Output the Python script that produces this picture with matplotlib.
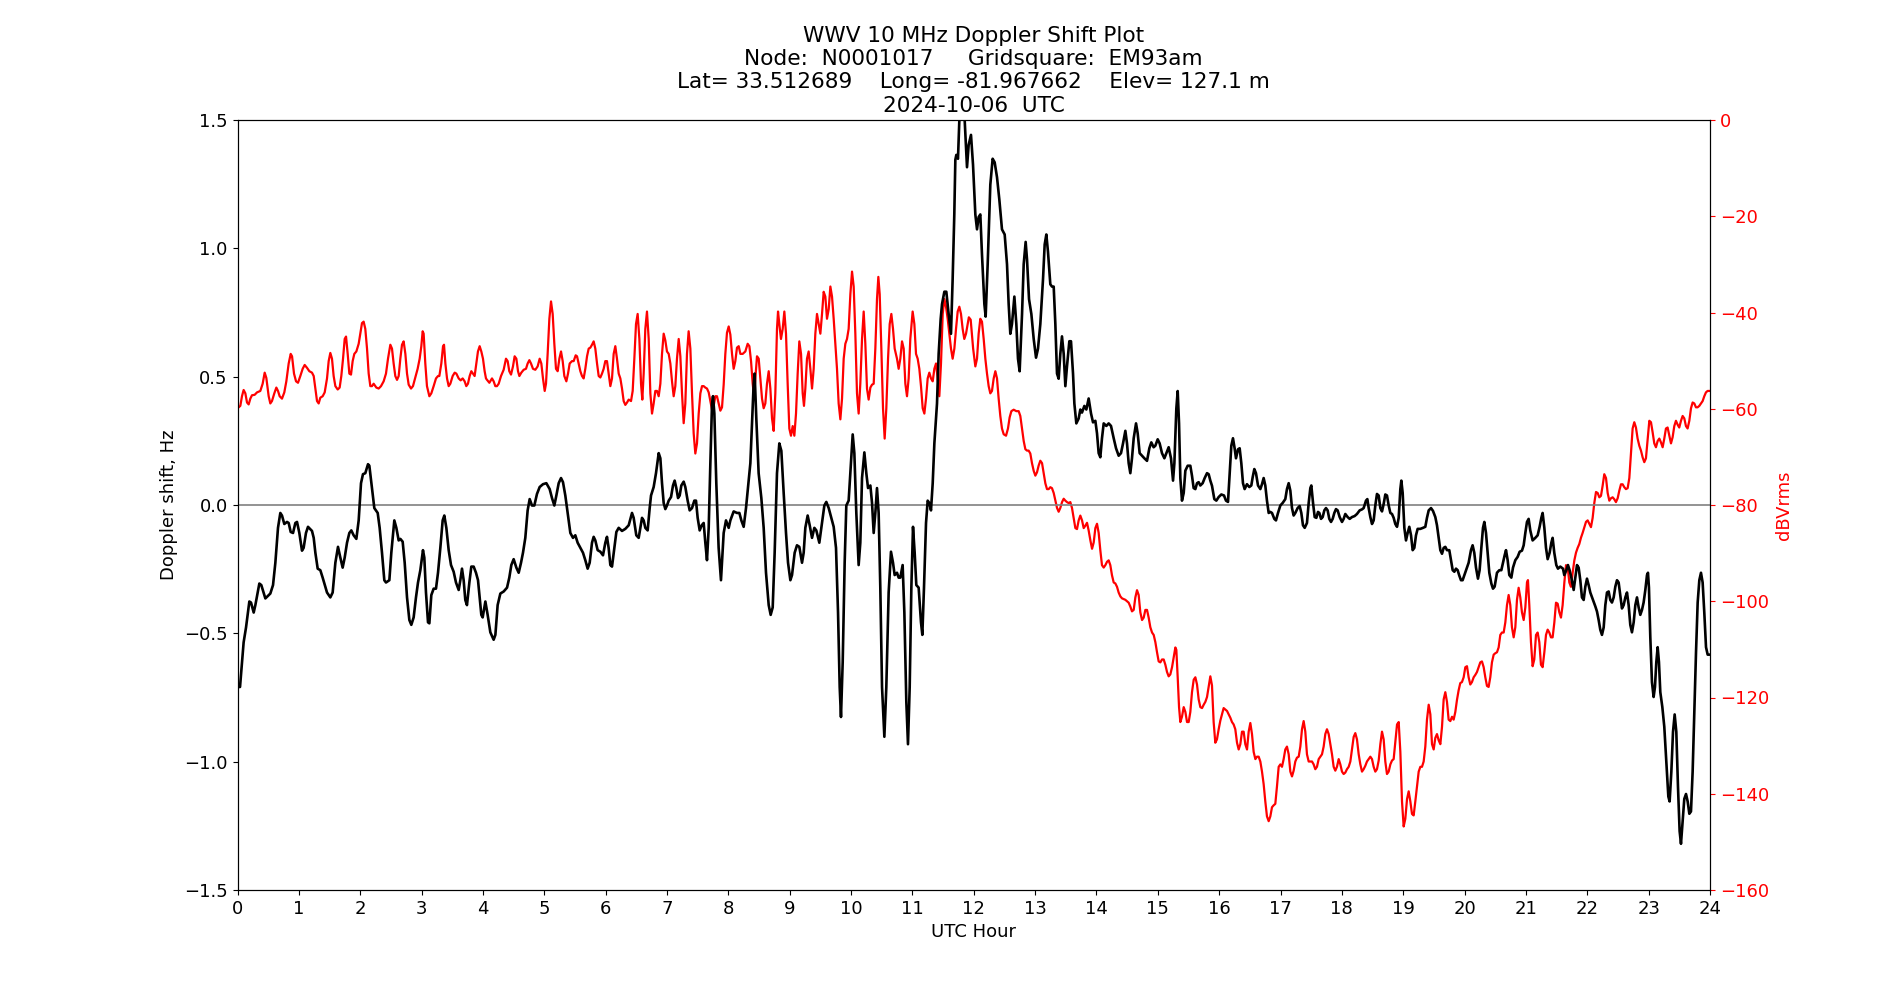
import matplotlib
matplotlib.use("Agg")
import matplotlib.pyplot as plt
import numpy as np

title_lines = [
    "WWV 10 MHz Doppler Shift Plot",
    "Node:  N0001017     Gridsquare:  EM93am",
    "Lat= 33.512689    Long= -81.967662    Elev= 127.1 m",
    "2024-10-06  UTC",
]
x_label = "UTC Hour"
left_label = "Doppler shift, Hz"
right_label = "dBVrms"
hour_ticks = list(range(0, 25))
doppler_ticks = [-1.5, -1.0, -0.5, 0.0, 0.5, 1.0, 1.5]
db_ticks = [-160, -140, -120, -100, -80, -60, -40, -20, 0]

# Doppler shift (Hz) vs UTC hour
dop_hours = [
    0.019, 0.041, 0.10, 0.139, 0.193, 0.22, 0.264, 0.291, 0.356, 0.388, 0.454, 0.535, 0.579, 0.617, 0.66, 0.698,
    0.725, 0.763, 0.807, 0.834, 0.867, 0.905, 0.943, 0.97, 1.008, 1.051, 1.078, 1.116, 1.149, 1.214, 1.242, 1.269,
    1.307, 1.35, 1.388, 1.459, 1.513, 1.551, 1.595, 1.638, 1.676, 1.714, 1.747, 1.785, 1.823, 1.855, 1.893, 1.937,
    1.975, 2.013, 2.045, 2.083, 2.127, 2.149, 2.192, 2.23, 2.285, 2.317, 2.355, 2.393, 2.42, 2.475, 2.507, 2.556,
    2.589, 2.627, 2.654, 2.692, 2.725, 2.763, 2.801, 2.833, 2.871, 2.909, 2.942, 2.98, 3.023, 3.045, 3.072, 3.105,
    3.127, 3.159, 3.197, 3.235, 3.268, 3.306, 3.344, 3.371, 3.404, 3.442, 3.48, 3.523, 3.561, 3.605, 3.632, 3.659,
    3.686, 3.713, 3.74, 3.779, 3.811, 3.849, 3.887, 3.92, 3.947, 3.974, 3.996,
    4.04, 4.077, 4.121, 4.175, 4.203, 4.24, 4.284, 4.338, 4.393, 4.43, 4.463, 4.501, 4.545, 4.583, 4.621, 4.653,
    4.691, 4.729, 4.762, 4.8, 4.838, 4.881, 4.925, 4.979, 5.034, 5.088, 5.126, 5.164, 5.197, 5.235, 5.273, 5.305,
    5.343, 5.381, 5.425, 5.468, 5.506, 5.544, 5.588, 5.631, 5.669, 5.707, 5.74, 5.778, 5.805, 5.832, 5.87, 5.914,
    5.957, 5.995, 6.022, 6.049, 6.077, 6.104, 6.142, 6.175, 6.213, 6.267, 6.321, 6.376, 6.43, 6.457, 6.5, 6.539,
    6.566, 6.593, 6.62, 6.647, 6.685, 6.718, 6.74, 6.783, 6.821, 6.865, 6.892, 6.919, 6.946, 6.973, 7.0, 7.028,
    7.066, 7.098, 7.125, 7.152, 7.18, 7.207, 7.234, 7.272, 7.299, 7.337, 7.37, 7.408, 7.446, 7.473, 7.5, 7.533,
    7.566, 7.598, 7.625, 7.652, 7.68, 7.707, 7.734, 7.75, 7.772, 7.804, 7.842, 7.88,
    7.924, 7.962, 8.006, 8.033, 8.087, 8.141, 8.18, 8.212, 8.25, 8.288, 8.332, 8.359, 8.386, 8.413, 8.429, 8.456,
    8.494, 8.538, 8.576, 8.614, 8.658, 8.69, 8.723, 8.755, 8.793, 8.831, 8.864, 8.902, 8.94, 8.973, 9.011, 9.038,
    9.081, 9.119, 9.157, 9.201, 9.228, 9.255, 9.293, 9.326, 9.364, 9.402, 9.434, 9.483, 9.527, 9.565, 9.597, 9.636,
    9.679, 9.717, 9.755, 9.788, 9.815, 9.836, 9.864, 9.896, 9.923, 9.961, 9.999, 10.027, 10.054, 10.086, 10.124, 10.151,
    10.179, 10.217, 10.249, 10.277, 10.315, 10.342, 10.369, 10.396, 10.423, 10.45, 10.477, 10.505, 10.543, 10.575, 10.613, 10.651,
    10.684, 10.711, 10.749, 10.776, 10.803, 10.841, 10.869, 10.901, 10.928, 10.956, 10.983, 11.01, 11.037, 11.064, 11.102, 11.14,
    11.162, 11.189, 11.222, 11.249, 11.276, 11.303, 11.331, 11.358, 11.401, 11.428, 11.461, 11.483, 11.521, 11.553, 11.591, 11.629,
    11.656, 11.683, 11.7, 11.716, 11.743, 11.765, 11.78, 11.83, 11.852, 11.89,
    11.917, 11.955, 11.988, 12.026, 12.053, 12.08, 12.107, 12.134, 12.173, 12.194, 12.227, 12.27, 12.308, 12.341, 12.379, 12.417,
    12.46, 12.504, 12.542, 12.569, 12.596, 12.623, 12.662, 12.694, 12.721, 12.748, 12.787, 12.814, 12.846, 12.868, 12.901, 12.939,
    12.977, 13.015, 13.047, 13.085, 13.129, 13.156, 13.183, 13.21, 13.248, 13.275, 13.303, 13.33, 13.357, 13.384, 13.411, 13.438,
    13.466, 13.493, 13.52, 13.558, 13.585, 13.618, 13.64, 13.672, 13.71, 13.737, 13.764, 13.803, 13.835, 13.873, 13.911, 13.944,
    13.982, 14.009, 14.036, 14.063, 14.09, 14.118, 14.161, 14.199, 14.237, 14.281, 14.319, 14.362, 14.4, 14.433, 14.471, 14.498,
    14.525, 14.552, 14.579, 14.607, 14.645, 14.672, 14.704, 14.742, 14.781, 14.824, 14.862, 14.894, 14.932, 14.96, 14.998, 15.03,
    15.068, 15.107, 15.14, 15.177, 15.215, 15.248, 15.27, 15.302, 15.324, 15.346, 15.367, 15.394, 15.422, 15.449, 15.487, 15.53,
    15.557, 15.584, 15.612, 15.639, 15.666, 15.693, 15.731, 15.764, 15.802, 15.829, 15.856, 15.883,
    15.921, 15.954, 15.992, 16.035, 16.079, 16.111, 16.144, 16.171, 16.198, 16.225, 16.252, 16.274, 16.307, 16.334, 16.361, 16.388,
    16.415, 16.453, 16.491, 16.524, 16.546, 16.573, 16.6, 16.633, 16.671, 16.698, 16.725, 16.752, 16.779, 16.807, 16.834, 16.861,
    16.899, 16.926, 16.959, 16.997, 17.035, 17.078, 17.105, 17.133, 17.16, 17.187, 17.214, 17.241, 17.279, 17.312, 17.339, 17.366,
    17.394, 17.431, 17.459, 17.486, 17.502, 17.53, 17.557, 17.584, 17.611, 17.633, 17.66, 17.687, 17.714, 17.741, 17.768, 17.795,
    17.823, 17.85, 17.877, 17.904, 17.931, 17.964, 18.002, 18.029, 18.056, 18.094, 18.127, 18.165, 18.208, 18.246, 18.29, 18.328,
    18.355, 18.393, 18.415, 18.437, 18.464, 18.491, 18.518, 18.545, 18.572, 18.6, 18.627, 18.654, 18.681, 18.708, 18.735, 18.763,
    18.79, 18.817, 18.844, 18.871, 18.899, 18.926, 18.953, 18.969, 18.991, 19.018, 19.045, 19.072, 19.099, 19.127, 19.154, 19.181,
    19.208, 19.235, 19.279, 19.322, 19.36, 19.387, 19.415, 19.453, 19.485, 19.523, 19.55, 19.577, 19.605, 19.632, 19.659, 19.686,
    19.713, 19.751, 19.778, 19.806, 19.833, 19.86, 19.887, 19.914, 19.941, 19.968,
    20.023, 20.066, 20.104, 20.131, 20.158, 20.186, 20.218, 20.245, 20.273, 20.3, 20.322, 20.349, 20.376, 20.403, 20.436, 20.463,
    20.49, 20.528, 20.566, 20.599, 20.626, 20.653, 20.675, 20.702, 20.729, 20.762, 20.789, 20.827, 20.865, 20.898, 20.935, 20.963,
    20.99, 21.017, 21.044, 21.071, 21.109, 21.153, 21.191, 21.223, 21.251, 21.272, 21.3, 21.327, 21.354, 21.386, 21.414, 21.435,
    21.462, 21.495, 21.522, 21.56, 21.604, 21.625, 21.658, 21.685, 21.712, 21.74, 21.778, 21.805, 21.832, 21.859, 21.886, 21.913,
    21.941, 21.968, 21.995, 22.022, 22.049, 22.093, 22.131, 22.158, 22.185, 22.212, 22.239, 22.267, 22.294, 22.321, 22.348, 22.375,
    22.402, 22.43, 22.457, 22.484, 22.511, 22.538, 22.565, 22.593, 22.62, 22.647, 22.674, 22.701, 22.728, 22.756, 22.783, 22.81,
    22.837, 22.864, 22.891, 22.918, 22.946, 22.973, 22.989, 23.005, 23.027, 23.054, 23.081, 23.103, 23.125, 23.147, 23.168, 23.19,
    23.223, 23.255, 23.288, 23.321, 23.342, 23.37, 23.397, 23.424, 23.451, 23.478, 23.505, 23.527, 23.554, 23.581, 23.609, 23.636,
    23.663, 23.69, 23.717, 23.744, 23.772, 23.799, 23.826, 23.853, 23.88, 23.907, 23.935, 23.962, 23.994,
]
dop_hz = [
    -0.709, -0.709, -0.535, -0.477, -0.376, -0.380, -0.419, -0.390, -0.306, -0.312, -0.364, -0.345, -0.312, -0.225, -0.089, -0.031,
    -0.041, -0.074, -0.066, -0.070, -0.105, -0.109, -0.070, -0.066, -0.109, -0.178, -0.167, -0.109, -0.085, -0.101, -0.128, -0.186,
    -0.248, -0.254, -0.283, -0.341, -0.360, -0.341, -0.225, -0.163, -0.205, -0.244, -0.205, -0.147, -0.109, -0.099, -0.118, -0.132,
    -0.060, 0.085, 0.120, 0.124, 0.159, 0.153, 0.066, -0.012, -0.031, -0.089, -0.186, -0.293, -0.302, -0.293, -0.186, -0.060,
    -0.089, -0.138, -0.132, -0.143, -0.225, -0.360, -0.448, -0.467, -0.438, -0.360, -0.302, -0.254, -0.176, -0.205, -0.341, -0.457,
    -0.461, -0.351, -0.326, -0.326, -0.264, -0.167, -0.060, -0.041, -0.089, -0.176, -0.234, -0.260, -0.302, -0.331, -0.293, -0.248,
    -0.293, -0.370, -0.390, -0.302, -0.240, -0.240, -0.264, -0.293, -0.360, -0.428, -0.438,
    -0.376, -0.428, -0.496, -0.525, -0.506, -0.390, -0.345, -0.337, -0.322, -0.283, -0.234, -0.211, -0.244, -0.264, -0.225, -0.186,
    -0.128, -0.021, 0.023, -0.002, -0.002, 0.043, 0.070, 0.081, 0.085, 0.062, 0.027, -0.002, 0.037, 0.085, 0.105, 0.089,
    0.037, -0.031, -0.109, -0.128, -0.118, -0.147, -0.167, -0.186, -0.215, -0.248, -0.225, -0.147, -0.124, -0.138, -0.176, -0.182,
    -0.196, -0.147, -0.124, -0.167, -0.234, -0.240, -0.167, -0.105, -0.089, -0.101, -0.093, -0.079, -0.031, -0.050, -0.118, -0.128,
    -0.089, -0.050, -0.060, -0.089, -0.099, -0.012, 0.037, 0.070, 0.124, 0.202, 0.182, 0.085, 0.008, -0.016, -0.002, 0.017,
    0.031, 0.076, 0.095, 0.066, 0.027, 0.037, 0.076, 0.091, 0.070, 0.017, -0.021, -0.012, 0.017, 0.017, -0.050, -0.099,
    -0.079, -0.070, -0.147, -0.215, -0.089, 0.163, 0.395, 0.424, 0.357, 0.085, -0.167, -0.293,
    -0.109, -0.060, -0.089, -0.060, -0.025, -0.031, -0.031, -0.060, -0.085, -0.012, 0.095, 0.163, 0.318, 0.473, 0.512, 0.337,
    0.124, 0.027, -0.089, -0.264, -0.390, -0.428, -0.399, -0.186, 0.124, 0.240, 0.211, 0.047, -0.109, -0.225, -0.293, -0.273,
    -0.186, -0.157, -0.163, -0.225, -0.186, -0.089, -0.041, -0.079, -0.128, -0.089, -0.099, -0.147, -0.070, -0.002, 0.012, -0.012,
    -0.050, -0.085, -0.167, -0.419, -0.709, -0.826, -0.612, -0.225, -0.002, 0.017, 0.163, 0.275, 0.202, -0.031, -0.234, -0.147,
    0.105, 0.205, 0.124, 0.066, 0.076, 0.008, -0.109, -0.031, 0.066, -0.031, -0.322, -0.709, -0.903, -0.709, -0.341, -0.182,
    -0.225, -0.273, -0.264, -0.283, -0.283, -0.234, -0.419, -0.767, -0.932, -0.709, -0.322, -0.085, -0.186, -0.312, -0.322, -0.457,
    -0.506, -0.322, -0.070, 0.017, 0.008, -0.021, 0.085, 0.240, 0.395, 0.589, 0.725, 0.783, 0.831, 0.831, 0.744, 0.667,
    0.880, 1.132, 1.345, 1.364, 1.349, 1.5, 1.6, 1.6, 1.5, 1.316,
    1.403, 1.442, 1.326, 1.132, 1.074, 1.122, 1.132, 0.977, 0.783, 0.734, 0.938, 1.248, 1.349, 1.335, 1.277, 1.19,
    1.074, 1.054, 0.938, 0.783, 0.667, 0.705, 0.812, 0.705, 0.57, 0.521, 0.744, 0.938, 1.025, 0.957, 0.802, 0.744,
    0.647, 0.574, 0.609, 0.705, 0.880, 1.015, 1.054, 0.986, 0.860, 0.851, 0.851, 0.705, 0.512, 0.492, 0.589, 0.657,
    0.589, 0.463, 0.541, 0.638, 0.638, 0.512, 0.395, 0.318, 0.337, 0.372, 0.360, 0.386, 0.372, 0.415, 0.357, 0.322,
    0.328, 0.279, 0.202, 0.186, 0.26, 0.318, 0.308, 0.318, 0.308, 0.26, 0.221, 0.192, 0.202, 0.240, 0.289, 0.240,
    0.163, 0.124, 0.182, 0.260, 0.318, 0.279, 0.202, 0.192, 0.182, 0.172, 0.221, 0.244, 0.225, 0.231, 0.256, 0.240,
    0.202, 0.182, 0.202, 0.225, 0.182, 0.095, 0.163, 0.376, 0.444, 0.318, 0.105, 0.017, 0.047, 0.134, 0.153, 0.153,
    0.114, 0.066, 0.062, 0.085, 0.089, 0.076, 0.085, 0.105, 0.124, 0.12, 0.095, 0.075,
    0.023, 0.017, 0.031, 0.041, 0.037, 0.017, 0.012, 0.124, 0.231, 0.260, 0.221, 0.182, 0.217, 0.221, 0.163, 0.085,
    0.062, 0.081, 0.070, 0.076, 0.108, 0.140, 0.124, 0.076, 0.062, 0.081, 0.105, 0.076, 0.017, -0.031, -0.027, -0.031,
    -0.054, -0.060, -0.031, -0.002, 0.008, 0.023, 0.062, 0.085, 0.056, -0.012, -0.041, -0.031, -0.012, -0.004, -0.031, -0.079,
    -0.089, -0.070, 0.008, 0.066, 0.076, 0.008, -0.047, -0.050, -0.027, -0.031, -0.054, -0.047, -0.021, -0.012, -0.021, -0.054,
    -0.066, -0.054, -0.031, -0.016, -0.021, -0.047, -0.066, -0.054, -0.035, -0.047, -0.054, -0.047, -0.043, -0.035, -0.021, -0.017,
    -0.012, 0.017, 0.023, -0.012, -0.047, -0.074, -0.060, -0.002, 0.043, 0.037, -0.012, -0.025, 0.004, 0.041, 0.037, -0.002,
    -0.031, -0.035, -0.050, -0.074, -0.085, -0.050, 0.062, 0.095, 0.047, -0.089, -0.138, -0.109, -0.085, -0.118, -0.176, -0.167,
    -0.118, -0.093, -0.093, -0.089, -0.085, -0.050, -0.021, -0.012, -0.023, -0.047, -0.079, -0.128, -0.176, -0.190, -0.167, -0.163,
    -0.176, -0.176, -0.215, -0.254, -0.260, -0.248, -0.254, -0.275, -0.293, -0.293,
    -0.255, -0.225, -0.176, -0.157, -0.186, -0.244, -0.287, -0.254, -0.167, -0.089, -0.066, -0.109, -0.186, -0.264, -0.306, -0.326,
    -0.318, -0.264, -0.254, -0.254, -0.225, -0.196, -0.176, -0.215, -0.273, -0.283, -0.244, -0.215, -0.202, -0.182, -0.178, -0.157,
    -0.109, -0.066, -0.054, -0.099, -0.138, -0.128, -0.118, -0.085, -0.050, -0.031, -0.089, -0.167, -0.211, -0.186, -0.147, -0.128,
    -0.186, -0.234, -0.248, -0.240, -0.248, -0.273, -0.254, -0.234, -0.254, -0.283, -0.331, -0.283, -0.234, -0.244, -0.293, -0.360,
    -0.370, -0.318, -0.287, -0.312, -0.341, -0.370, -0.395, -0.415, -0.448, -0.486, -0.506, -0.477, -0.390, -0.341, -0.337, -0.370,
    -0.380, -0.360, -0.318, -0.293, -0.302, -0.351, -0.403, -0.390, -0.360, -0.341, -0.390, -0.467, -0.496, -0.457, -0.390, -0.360,
    -0.399, -0.428, -0.409, -0.380, -0.331, -0.273, -0.264, -0.322, -0.515, -0.690, -0.748, -0.709, -0.612, -0.554, -0.612, -0.729,
    -0.787, -0.864, -0.999, -1.136, -1.155, -1.039, -0.884, -0.816, -0.884, -1.097, -1.271, -1.320, -1.233, -1.145, -1.126, -1.155,
    -1.203, -1.194, -1.039, -0.806, -0.574, -0.380, -0.293, -0.264, -0.302, -0.419, -0.554, -0.583, -0.583,
]

# Received signal level (dBVrms) vs UTC hour
rms_hours = [
    0.019, 0.046, 0.073, 0.1, 0.128, 0.155, 0.182, 0.209, 0.236, 0.28, 0.318, 0.372, 0.41, 0.443, 0.47, 0.508,
    0.535, 0.562, 0.6, 0.633, 0.66, 0.687, 0.725, 0.763, 0.796, 0.834, 0.867, 0.889, 0.921, 0.954, 0.986, 1.024,
    1.062, 1.095, 1.133, 1.171, 1.214, 1.242, 1.269, 1.296, 1.323, 1.35, 1.388, 1.421, 1.459, 1.486, 1.513, 1.54,
    1.567, 1.595, 1.633, 1.665, 1.692, 1.72, 1.747, 1.769, 1.796, 1.823, 1.85, 1.877, 1.904, 1.937, 1.975, 2.002,
    2.029, 2.056, 2.083, 2.111, 2.138, 2.165, 2.192, 2.219, 2.263, 2.301, 2.339, 2.382, 2.42, 2.453, 2.491, 2.518,
    2.545, 2.572, 2.6, 2.627, 2.654, 2.681, 2.708, 2.736, 2.763, 2.79, 2.828, 2.86, 2.898, 2.936, 2.969, 2.996,
    3.018, 3.034, 3.061, 3.088, 3.127, 3.159, 3.197, 3.235, 3.268, 3.29, 3.322, 3.35, 3.366, 3.388, 3.415, 3.442,
    3.469, 3.507, 3.54, 3.567, 3.605, 3.637, 3.67, 3.702, 3.729, 3.756, 3.784, 3.811, 3.838, 3.865, 3.892, 3.919,
    3.947, 3.974, 4.001, 4.028, 4.05,
    4.067, 4.105, 4.148, 4.175, 4.202, 4.229, 4.257, 4.295, 4.338, 4.376, 4.403, 4.43, 4.458, 4.49, 4.517, 4.545,
    4.572, 4.594, 4.626, 4.664, 4.702, 4.729, 4.757, 4.784, 4.816, 4.854, 4.892, 4.925, 4.952, 4.979, 5.007, 5.028,
    5.055, 5.083, 5.11, 5.137, 5.164, 5.191, 5.218, 5.246, 5.273, 5.3, 5.327, 5.36, 5.387, 5.414, 5.452, 5.479,
    5.512, 5.534, 5.561, 5.588, 5.615, 5.642, 5.669, 5.697, 5.724, 5.751, 5.778, 5.805, 5.832, 5.86, 5.887, 5.914,
    5.941, 5.968, 5.995, 6.022, 6.049, 6.077, 6.104, 6.131, 6.158, 6.185, 6.213, 6.24, 6.267, 6.294, 6.321, 6.349,
    6.376, 6.414, 6.441, 6.468, 6.495, 6.522, 6.55, 6.577, 6.598, 6.62, 6.647, 6.674, 6.702, 6.729, 6.756, 6.783,
    6.81, 6.837, 6.865, 6.892, 6.919, 6.946, 6.973, 7.0, 7.028, 7.055, 7.082, 7.109, 7.136, 7.163, 7.191, 7.218,
    7.245, 7.272, 7.299, 7.326, 7.353, 7.381, 7.408, 7.435, 7.462, 7.489, 7.517, 7.544, 7.571, 7.598, 7.625, 7.652,
    7.68, 7.707, 7.734, 7.761, 7.788, 7.815, 7.843, 7.87, 7.897, 7.924, 7.951, 7.978, 8.006, 8.033,
    8.06, 8.087, 8.114, 8.141, 8.169, 8.196, 8.234, 8.277, 8.315, 8.343, 8.37, 8.397, 8.419, 8.44, 8.467, 8.495,
    8.522, 8.549, 8.576, 8.603, 8.63, 8.658, 8.685, 8.712, 8.739, 8.766, 8.793, 8.81, 8.831, 8.858, 8.886, 8.913,
    8.94, 8.967, 8.994, 9.021, 9.049, 9.076, 9.103, 9.13, 9.157, 9.185, 9.212, 9.233, 9.255, 9.282, 9.309, 9.337,
    9.364, 9.391, 9.418, 9.445, 9.473, 9.5, 9.527, 9.554, 9.581, 9.608, 9.636, 9.663, 9.69, 9.717, 9.744, 9.771,
    9.798, 9.826, 9.853, 9.88, 9.907, 9.934, 9.961, 9.989, 10.016, 10.043, 10.07, 10.097, 10.124, 10.151, 10.179, 10.206,
    10.233, 10.26, 10.287, 10.315, 10.342, 10.369, 10.396, 10.423, 10.445, 10.467, 10.494, 10.521, 10.548, 10.575, 10.603, 10.63,
    10.657, 10.684, 10.711, 10.749, 10.776, 10.803, 10.831, 10.858, 10.885, 10.912, 10.939, 10.966, 11.004, 11.032, 11.059, 11.086,
    11.113, 11.14, 11.168, 11.195, 11.222, 11.249, 11.276, 11.303, 11.331, 11.358, 11.385, 11.412, 11.439, 11.466, 11.494, 11.521,
    11.548, 11.575, 11.602, 11.629, 11.656, 11.684, 11.711, 11.738, 11.765, 11.792, 11.819, 11.846, 11.874, 11.92, 11.95, 11.99,
    12.026, 12.053, 12.08, 12.107, 12.134, 12.162, 12.189, 12.216, 12.243, 12.27, 12.297, 12.325, 12.352, 12.379, 12.406, 12.433,
    12.46, 12.488, 12.526, 12.558, 12.585, 12.613, 12.651, 12.694, 12.732, 12.759, 12.787, 12.814, 12.841, 12.868, 12.895, 12.922,
    12.949, 12.977, 13.004, 13.031, 13.058, 13.085, 13.113, 13.14, 13.167, 13.194, 13.221, 13.248, 13.275, 13.303, 13.33, 13.357,
    13.384, 13.411, 13.439, 13.466, 13.493, 13.52, 13.547, 13.574, 13.601, 13.629, 13.656, 13.683, 13.71, 13.737, 13.765, 13.792,
    13.819, 13.846, 13.873, 13.9, 13.928, 13.955, 13.982, 14.009, 14.036, 14.063, 14.09, 14.118, 14.145, 14.172, 14.199, 14.226,
    14.253, 14.281, 14.308, 14.335, 14.362, 14.39, 14.417, 14.471, 14.525, 14.552, 14.579, 14.607, 14.634, 14.661, 14.688, 14.715,
    14.743, 14.77, 14.797, 14.824, 14.851, 14.878, 14.906, 14.933, 14.96, 14.987, 15.014, 15.041, 15.069, 15.096, 15.123, 15.15,
    15.177, 15.204, 15.232, 15.259, 15.286, 15.302, 15.324, 15.346, 15.367, 15.394, 15.422, 15.449, 15.476, 15.503, 15.53, 15.557,
    15.585, 15.612, 15.639, 15.666, 15.693, 15.721, 15.748, 15.775, 15.802, 15.829, 15.856, 15.883, 15.91, 15.937, 15.964, 15.992,
    16.019, 16.046, 16.073, 16.1, 16.128, 16.155, 16.182, 16.209, 16.236, 16.263, 16.291, 16.318, 16.345, 16.372, 16.399, 16.426,
    16.454, 16.481, 16.508, 16.535, 16.562, 16.59, 16.617, 16.644, 16.671, 16.698, 16.725, 16.752, 16.779, 16.807, 16.834, 16.861,
    16.888, 16.915, 16.942, 16.97, 16.997, 17.024, 17.051, 17.078, 17.105, 17.133, 17.16, 17.187, 17.214, 17.241, 17.268, 17.296,
    17.323, 17.35, 17.377, 17.404, 17.431, 17.459, 17.486, 17.513, 17.54, 17.567, 17.594, 17.622, 17.649, 17.676, 17.703, 17.73,
    17.757, 17.785, 17.812, 17.839, 17.866, 17.893, 17.92, 17.948, 17.975, 18.002, 18.029, 18.056, 18.083, 18.111, 18.138, 18.165,
    18.192, 18.219, 18.246, 18.274, 18.301, 18.328, 18.355, 18.382, 18.409, 18.437, 18.464, 18.491, 18.518, 18.545, 18.572, 18.6,
    18.627, 18.654, 18.681, 18.708, 18.735, 18.763, 18.79, 18.817, 18.844, 18.871, 18.899, 18.926, 18.953, 18.98, 19.007, 19.034,
    19.062, 19.089, 19.116, 19.143, 19.17, 19.197, 19.224, 19.252, 19.279, 19.306, 19.333, 19.36, 19.387, 19.415, 19.442, 19.469,
    19.496, 19.523, 19.55, 19.578, 19.605, 19.632, 19.659, 19.686, 19.713, 19.74, 19.768, 19.795, 19.822, 19.849, 19.876,
    19.903, 19.93, 19.957, 19.985, 20.012, 20.039, 20.066, 20.093, 20.12, 20.148, 20.175, 20.202, 20.229, 20.256, 20.283, 20.311,
    20.338, 20.365, 20.392, 20.419, 20.446, 20.474, 20.501, 20.528, 20.555, 20.582, 20.609, 20.637, 20.664, 20.691, 20.718, 20.745,
    20.772, 20.8, 20.827, 20.854, 20.881, 20.908, 20.935, 20.963, 20.99, 21.017, 21.033, 21.055, 21.082, 21.109, 21.136, 21.164,
    21.191, 21.218, 21.245, 21.272, 21.3, 21.327, 21.354, 21.381, 21.408, 21.435, 21.463, 21.49, 21.517, 21.544, 21.571, 21.598,
    21.626, 21.653, 21.68, 21.707, 21.734, 21.761, 21.789, 21.816, 21.843, 21.87, 21.897, 21.924, 21.952, 21.979, 22.006, 22.033,
    22.06, 22.087, 22.114, 22.142, 22.169, 22.196, 22.223, 22.25, 22.277, 22.305, 22.332, 22.359, 22.386, 22.413, 22.44, 22.467,
    22.495, 22.522, 22.549, 22.576, 22.603, 22.63, 22.658, 22.685, 22.712, 22.739, 22.766, 22.793, 22.82, 22.848, 22.875, 22.902,
    22.929, 22.956, 22.984, 23.011, 23.038, 23.065, 23.092, 23.119, 23.147, 23.174, 23.201, 23.228, 23.255, 23.282, 23.309, 23.337,
    23.364, 23.391, 23.418, 23.445, 23.472, 23.499, 23.527, 23.554, 23.581, 23.608, 23.635, 23.663, 23.69, 23.717, 23.744, 23.771,
    23.798, 23.826, 23.853, 23.88, 23.907, 23.934, 23.961, 23.994,
]
rms_db = [
    -59.7, -59.4, -57.4, -56.1, -56.8, -58.7, -59.1, -57.9, -57.2, -57.1, -56.6, -56.3, -54.8, -52.5, -53.6, -57.4,
    -58.9, -58.4, -56.8, -55.6, -56.3, -57.4, -57.9, -56.6, -54.3, -50.6, -48.6, -49.1, -52.7, -54.3, -54.6, -53.2,
    -51.7, -50.9, -51.5, -52.2, -52.5, -53.2, -55.8, -58.4, -58.9, -57.7, -57.4, -56.6, -53.7, -50.1, -48.4, -49.6,
    -53.2, -55.3, -56.0, -55.6, -53.2, -49.6, -45.5, -45.0, -48.6, -52.7, -52.9, -50.1, -48.6, -48.1, -46.5, -44.4,
    -42.2, -41.9, -43.4, -47.5, -52.7, -55.3, -55.3, -54.8, -55.6, -55.8, -55.3, -54.3, -52.7, -49.6, -46.7, -47.5,
    -50.6, -53.2, -54.0, -53.2, -49.6, -46.7, -46.0, -48.6, -52.7, -55.0, -55.8, -55.3, -53.5, -51.7, -49.6, -47.0,
    -43.9, -44.4, -50.6, -55.3, -57.4, -56.8, -55.3, -53.7, -53.2, -53.2, -50.6, -47.0, -46.7, -50.6, -53.7, -55.3,
    -54.8, -53.2, -52.5, -52.7, -53.7, -54.1, -53.7, -54.3, -55.3, -54.8, -53.2, -52.2, -52.7, -53.2, -50.6, -48.1,
    -47.0, -48.1, -49.6, -52.2, -53.7,
    -54.0, -54.6, -53.7, -54.3, -55.3, -55.3, -54.8, -53.2, -51.9, -49.6, -50.1, -52.2, -52.9, -51.2, -49.1, -49.6,
    -52.2, -53.2, -52.5, -51.9, -51.7, -50.6, -49.9, -50.6, -51.7, -51.9, -51.2, -49.6, -50.6, -53.7, -56.3, -54.8,
    -48.6, -41.3, -37.7, -40.3, -46.5, -51.7, -52.2, -49.6, -48.1, -50.1, -53.2, -54.3, -52.7, -50.6, -50.1, -50.1,
    -48.9, -49.1, -50.6, -52.2, -53.2, -53.7, -51.7, -49.1, -47.5, -47.3, -46.7, -46.0, -47.5, -50.6, -53.2, -53.5,
    -52.7, -51.7, -50.1, -50.1, -52.7, -55.3, -53.7, -48.6, -47.0, -49.6, -52.7, -53.7, -55.8, -58.4, -59.2, -58.7,
    -58.1, -58.4, -56.3, -49.6, -42.4, -40.3, -45.5, -54.8, -58.1, -52.7, -43.4, -39.8, -45.5, -56.8, -61.0, -58.9,
    -56.3, -56.3, -57.4, -54.8, -48.6, -44.4, -45.8, -48.1, -48.6, -50.6, -54.3, -57.4, -55.3, -49.6, -45.5, -49.1,
    -56.8, -63.0, -58.9, -48.6, -43.9, -47.5, -56.8, -65.1, -69.3, -67.2, -61.0, -56.8, -55.3, -55.3, -55.6, -55.8,
    -56.6, -58.4, -60.2, -59.4, -57.4, -57.4, -58.9, -60.4, -59.7, -55.0, -48.6, -44.2, -42.9, -44.6,
    -48.6, -51.7, -50.1, -47.3, -47.0, -48.6, -48.6, -48.1, -46.5, -47.0, -50.1, -54.8, -57.4, -53.7, -49.1, -49.6,
    -53.7, -57.9, -59.9, -58.9, -54.8, -52.2, -55.8, -62.0, -64.6, -56.8, -43.4, -39.8, -42.4, -45.5, -43.4, -39.8,
    -44.4, -54.8, -64.1, -65.6, -63.6, -65.6, -61.0, -52.7, -46.0, -48.6, -56.8, -59.4, -55.8, -49.6, -48.1, -51.7,
    -55.8, -51.7, -44.4, -40.3, -42.4, -44.4, -40.3, -35.7, -36.7, -41.3, -39.3, -34.6, -36.7, -41.3, -46.5, -51.7,
    -58.9, -62.2, -57.9, -49.6, -46.5, -45.5, -43.4, -36.2, -31.5, -34.6, -44.4, -56.8, -61.0, -54.8, -45.5, -39.8,
    -46.5, -55.8, -58.1, -55.6, -55.0, -54.8, -47.5, -37.2, -32.6, -36.2, -47.5, -59.9, -66.2, -59.9, -49.6, -42.4,
    -40.3, -43.4, -47.5, -49.6, -51.7, -49.6, -46.0, -47.5, -54.8, -57.4, -53.7, -45.5, -39.8, -42.4, -48.6, -49.6,
    -51.7, -55.3, -59.9, -61.0, -57.9, -53.7, -52.5, -53.7, -54.3, -51.7, -50.6, -53.7, -57.4, -50.6, -40.3, -37.2,
    -38.8, -41.3, -44.4, -47.5, -49.6, -47.5, -43.4, -39.8, -38.8, -40.3, -43.4, -45.5, -44.4, -41.0, -41.5, -47.5,
    -51.2, -49.6, -44.4, -41.3, -41.9, -45.5, -49.6, -52.7, -55.3, -56.8, -56.3, -53.7, -52.2, -53.7, -57.9, -61.5,
    -64.1, -65.3, -65.6, -64.1, -61.8, -60.5, -60.2, -60.5, -60.5, -61.5, -64.1, -66.7, -68.4, -68.7, -68.7, -69.3,
    -71.3, -72.9, -73.9, -73.2, -71.8, -70.8, -71.3, -73.4, -75.5, -76.7, -76.7, -76.3, -76.5, -77.5, -79.1, -80.6,
    -81.4, -80.6, -79.4, -78.7, -79.1, -79.4, -79.6, -79.4, -80.6, -82.7, -84.8, -85.0, -83.2, -82.2, -83.2, -84.8,
    -84.3, -83.7, -85.3, -87.3, -89.1, -87.8, -84.8, -83.9, -85.8, -89.4, -92.5, -93.0, -92.5, -91.8, -91.5, -92.5,
    -94.6, -96.1, -96.3, -97.0, -98.2, -99.0, -99.4, -99.7, -100.3, -101.1, -102.1, -101.8, -99.2, -97.7, -98.7, -102.3,
    -103.9, -103.4, -101.8, -101.8, -103.4, -105.4, -106.5, -107.0, -108.5, -110.6, -112.5, -112.7, -112.1, -112.1, -113.2, -114.7,
    -115.6, -115.2, -113.7, -111.6, -109.6, -110.1, -115.8, -122.0, -125.1, -124.0, -122.0, -123.0, -125.1, -125.1, -123.0, -118.9,
    -116.3, -115.8, -117.3, -120.4, -122.0, -122.2, -121.5, -120.9, -119.9, -117.8, -115.6, -117.5, -125.1, -129.4, -128.7, -126.6,
    -124.8, -123.5, -122.2, -122.5, -122.8, -123.5, -124.2, -125.1, -125.6, -126.6, -129.4, -130.8, -129.7, -127.1, -127.1, -129.7,
    -130.8, -127.1, -125.3, -127.6, -131.3, -132.8, -132.3, -132.3, -133.3, -135.4, -138.0, -141.6, -144.7, -145.7, -144.7, -142.8,
    -142.4, -142.1, -138.5, -134.4, -133.9, -134.4, -132.8, -130.8, -130.2, -131.8, -135.4, -136.4, -135.2, -133.3, -132.5, -132.3,
    -130.2, -126.6, -124.9, -127.1, -131.8, -133.3, -133.3, -133.3, -133.9, -134.9, -134.4, -132.8, -132.3, -131.8, -130.2, -127.6,
    -126.6, -127.6, -129.7, -131.8, -134.4, -135.2, -134.4, -132.8, -133.9, -135.4, -135.9, -135.6, -134.9, -134.4, -133.3, -130.8,
    -128.2, -127.4, -128.7, -131.8, -133.9, -135.4, -134.9, -134.2, -133.3, -132.8, -132.3, -132.8, -134.4, -135.4, -134.9, -133.1,
    -129.7, -127.1, -128.7, -133.3, -135.9, -135.4, -133.9, -133.1, -132.8, -129.2, -125.6, -125.1, -131.3, -141.6, -146.8, -145.2,
    -141.1, -139.5, -141.6, -144.2, -144.5, -141.6, -138.5, -135.4, -134.4, -134.4, -133.3, -130.2, -124.6, -121.5, -123.5, -129.7,
    -130.8, -128.4, -127.6, -128.9, -129.7, -126.1, -120.4, -118.9, -120.9, -124.6, -124.9, -124.0, -124.6, -123.0, -120.5,
    -118.5, -117.0, -116.8, -115.8, -113.7, -113.5, -115.8, -117.3, -116.8, -115.8, -115.3, -114.7, -113.7, -112.7, -112.5, -113.7,
    -115.8, -117.6, -117.8, -115.8, -112.7, -111.1, -110.8, -110.6, -109.6, -107.0, -106.5, -106.5, -104.4, -100.8, -98.7, -100.8,
    -105.4, -107.5, -105.4, -99.7, -97.2, -99.2, -102.3, -103.9, -101.3, -96.1, -95.6, -100.8, -108.5, -113.5, -112.1, -107.0,
    -106.5, -108.5, -113.2, -113.7, -110.6, -107.0, -105.9, -106.5, -107.5, -107.5, -104.4, -100.3, -100.5, -102.3, -103.4, -100.8,
    -96.1, -92.5, -92.8, -96.1, -97.0, -94.1, -91.5, -89.9, -88.9, -88.1, -86.8, -85.8, -84.6, -83.5, -83.2, -83.9,
    -84.6, -82.7, -79.6, -77.3, -77.5, -78.4, -78.1, -76.0, -73.6, -74.4, -77.5, -79.1, -78.6, -78.4, -78.8, -79.4,
    -78.6, -77.0, -75.7, -75.7, -76.3, -76.7, -76.5, -74.4, -69.3, -64.1, -62.8, -63.9, -66.2, -67.7, -68.7, -70.1,
    -71.1, -70.3, -66.2, -62.5, -62.8, -64.9, -67.2, -68.0, -66.7, -66.2, -67.0, -68.0, -66.2, -64.1, -63.9, -65.6,
    -67.2, -65.9, -63.6, -62.5, -63.3, -63.9, -62.5, -61.5, -62.0, -63.6, -64.1, -62.5, -59.9, -58.7, -58.9, -59.7,
    -59.7, -59.4, -58.9, -58.4, -57.4, -56.6, -56.3, -56.3,
]

assert len(dop_hours) == len(dop_hz), (len(dop_hours), len(dop_hz))
assert len(rms_hours) == len(rms_db), (len(rms_hours), len(rms_db))

plt.rcParams["font.size"] = 13

fig = plt.figure(figsize=(19, 10), dpi=100)
ax = fig.add_subplot(111)
ax2 = ax.twinx()

ax2.plot(rms_hours, rms_db, color="red", linewidth=1.6)
ax2.set_ylim(-160, 0)
ax2.set_yticks(db_ticks)
ax2.set_ylabel(right_label, color="red")
ax2.tick_params(axis="y", colors="red")

ax.axhline(0, color="gray", linewidth=1.2)
ax.plot(dop_hours, dop_hz, color="black", linewidth=1.9)
ax.set_xlim(0, 24)
ax.set_ylim(-1.5, 1.5)
ax.set_xticks(hour_ticks)
ax.set_yticks(doppler_ticks)
ax.set_xlabel(x_label)
ax.set_ylabel(left_label)
ax.set_title("\n".join(title_lines))

ax.set_zorder(ax2.get_zorder() + 1)
ax.patch.set_visible(False)

fig.savefig("out.png", dpi=100)
